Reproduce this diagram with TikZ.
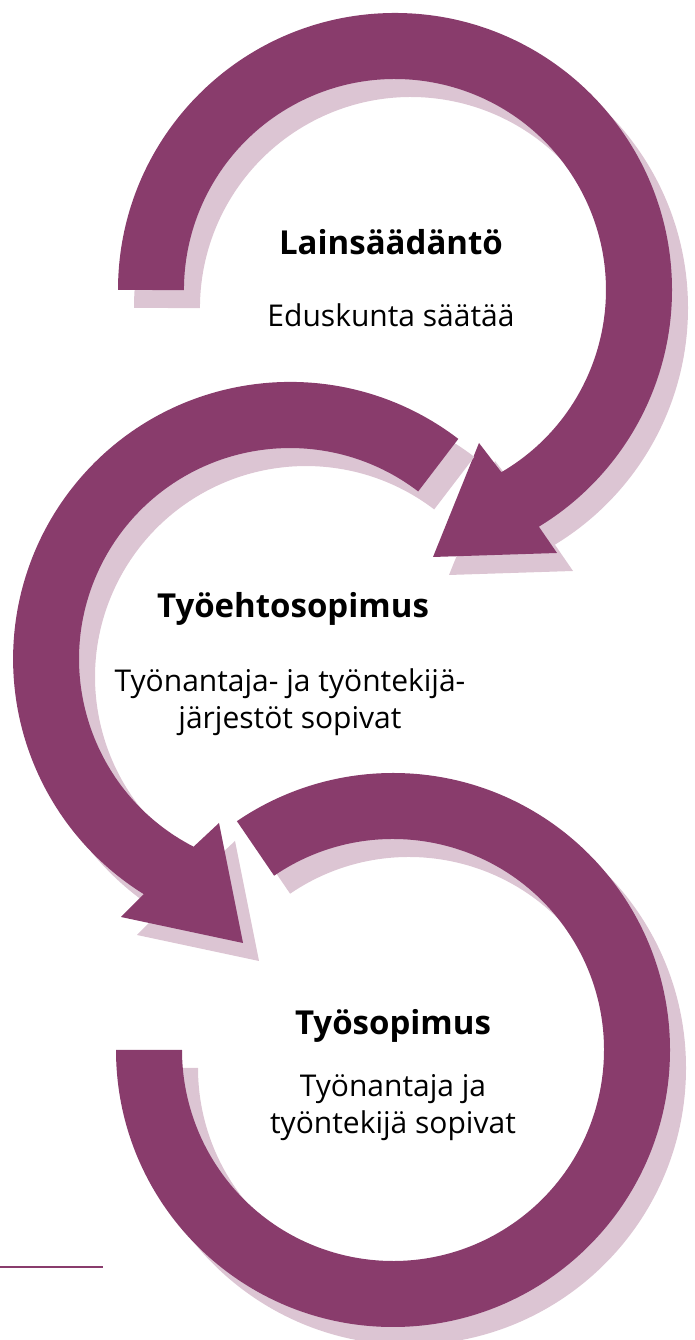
\documentclass[tikz,border=0pt]{standalone}
\usepackage{fontspec}
\setmainfont{Open Sans}
\usepackage{tikz}
\definecolor{plum}{RGB}{137,60,108}
\definecolor{plumshade}{RGB}{220,197,211}
% arrow outlines (1pt = 1px of the layout)
\newcommand{\lawpath}{(118,1050) arc[start angle=180, end angle=-58.7, radius=277pt] -- (557,787) -- (433,783) -- (479,897) -- (501.4,867.8) arc[start angle=-59.7, end angle=180, radius=211pt] -- cycle}
\newcommand{\collpath}{(458.3,901.1) arc[start angle=52.6, end angle=238.1, radius=277pt] -- (121,423) -- (243,397) -- (219,517) -- (193.6,493.3) arc[start angle=242.8, end angle=52.6, radius=211pt] -- cycle}
\newcommand{\contractpath}{(116,290) arc[start angle=180, end angle=484.3, radius=277pt] -- (274.1,464.3) arc[start angle=484.3, end angle=180, radius=211pt] -- cycle}

\begin{document}
\begin{tikzpicture}[
  x=1pt, y=1pt,
  arrowbody/.style={fill=plum},
  arrowshade/.style={fill=plumshade, shift={(16,-18)}},
  title/.style={font=\fontsize{33}{40}\selectfont\bfseries, inner sep=0pt, anchor=base},
  desc/.style={font=\fontsize{30}{37}\selectfont, inner sep=0pt, anchor=base, align=center}
]
\useasboundingbox (0,0) rectangle (695,1340);
% Lainsäädäntö
\fill[arrowshade] \lawpath;
\fill[arrowbody] \lawpath;
\node[title] (law) at (391,1085) {Lainsäädäntö};
\node[desc] (lawtxt) at (391,1013) {Eduskunta säätää};
% Työehtosopimus
\fill[arrowshade] \collpath;
\fill[arrowbody] \collpath;
\node[title] (coll) at (293,722) {Työehtosopimus};
\node[desc] (colltxt) at (290,611) {Työnantaja- ja työntekijä-\\järjestöt sopivat};
% Työsopimus
\fill[arrowshade] \contractpath;
\fill[arrowbody] \contractpath;
\node[title] (contract) at (393,305) {Työsopimus};
\node[desc] (contracttxt) at (393,206) {Työnantaja ja\\työntekijä sopivat};
% rule
\draw[plum, line width=2.6pt] (0,73) -- (103,73);
\end{tikzpicture}
\end{document}
